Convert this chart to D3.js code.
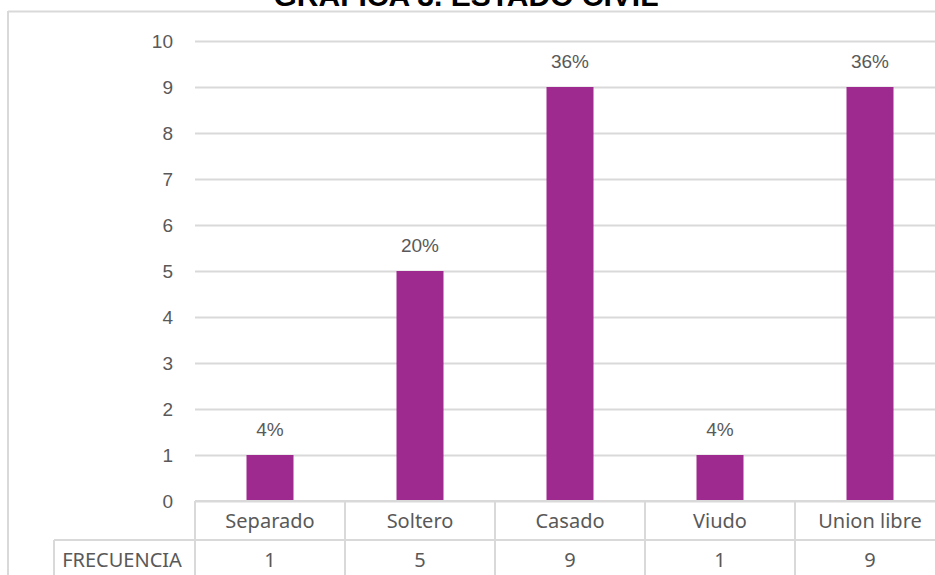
<!DOCTYPE html>
<html>
<head>
<meta charset="utf-8">
<script src="https://cdn.jsdelivr.net/npm/d3@7"></script>
<style>
  html, body { margin: 0; padding: 0; background: #ffffff; }
  svg { display: block; }
</style>
</head>
<body>
<div id="chart"></div>
<script>
// Estado civil: frequency per category with its percentage label
const categories = ["Separado", "Soltero", "Casado", "Viudo", "Union libre"];
const frecuencia = [1, 5, 9, 1, 9];
const porcentajes = ["4%", "20%", "36%", "4%", "36%"];
const yTicks = [0, 1, 2, 3, 4, 5, 6, 7, 8, 9, 10];
const tableRowLabel = "FRECUENCIA";
const title = "GRAFICA 3. ESTADO CIVIL";

const W = 935, H = 575;
const plot = { left: 195, right: 945, top: 41, bottom: 501 };
const rowH = 39;

const svg = d3.select("#chart").append("svg")
  .attr("width", W).attr("height", H);

const gridColor = "#d9d9d9";
const textColor = "#595959";
const barColor = "#9e2a8f";
const numFont = "'Liberation Sans', Arial, sans-serif";
const tableFont = "'Noto Sans', 'Open Sans', sans-serif";

// outer chart frame (left and top edges)
svg.append("line").attr("x1", 8).attr("x2", W).attr("y1", 11.5).attr("y2", 11.5)
  .attr("stroke", gridColor).attr("stroke-width", 2);
svg.append("line").attr("x1", 8).attr("x2", 8).attr("y1", 11).attr("y2", H)
  .attr("stroke", gridColor).attr("stroke-width", 2);

// title, partly above the visible area
svg.append("text")
  .attr("x", 466).attr("y", 6)
  .attr("text-anchor", "middle")
  .attr("font-family", numFont).attr("font-weight", "bold")
  .attr("font-size", 30).attr("fill", "#000")
  .text(title);

const x = d3.scaleBand().domain(categories).range([plot.left, plot.right]).paddingInner(0).paddingOuter(0);
const y = d3.scaleLinear().domain([0, 10]).range([plot.bottom, plot.top]);

// horizontal gridlines + tick labels
const yAxis = d3.axisLeft(y).tickValues(yTicks).tickSize(-(plot.right - plot.left)).tickPadding(22);
const gy = svg.append("g").attr("transform", `translate(${plot.left},0)`).call(yAxis);
gy.select(".domain").remove();
gy.selectAll(".tick line").attr("stroke", gridColor).attr("stroke-width", 2);
gy.selectAll(".tick text")
  .attr("fill", textColor).attr("font-size", 19).attr("font-family", numFont);

// bars
const barW = 47;
svg.append("g").selectAll("rect")
  .data(categories)
  .join("rect")
  .attr("x", (d) => x(d) + x.bandwidth() / 2 - barW / 2)
  .attr("width", barW)
  .attr("y", (d, i) => y(frecuencia[i]))
  .attr("height", (d, i) => y(0) - y(frecuencia[i]))
  .attr("fill", barColor);

// percentage labels above bars
svg.append("g").selectAll("text")
  .data(categories)
  .join("text")
  .attr("x", (d) => x(d) + x.bandwidth() / 2)
  .attr("y", (d, i) => y(frecuencia[i]) - 19)
  .attr("text-anchor", "middle")
  .attr("font-family", numFont).attr("font-size", 19)
  .attr("fill", textColor)
  .text((d, i) => porcentajes[i]);

// data table below the axis
const table = svg.append("g");
const tableTop = plot.bottom;
// horizontal rules
table.append("line").attr("x1", plot.left).attr("x2", W).attr("y1", tableTop).attr("y2", tableTop)
  .attr("stroke", gridColor).attr("stroke-width", 2);
table.append("line").attr("x1", 54).attr("x2", W).attr("y1", tableTop + rowH).attr("y2", tableTop + rowH)
  .attr("stroke", gridColor).attr("stroke-width", 2);
// vertical rules between categories
table.selectAll("line.v")
  .data(categories)
  .join("line")
  .attr("class", "v")
  .attr("x1", (d) => x(d)).attr("x2", (d) => x(d))
  .attr("y1", tableTop).attr("y2", H)
  .attr("stroke", gridColor).attr("stroke-width", 2);
// left edge of the row label cell
table.append("line").attr("x1", 54).attr("x2", 54).attr("y1", tableTop + rowH).attr("y2", H)
  .attr("stroke", gridColor).attr("stroke-width", 2);

// category names
table.selectAll("text.cat")
  .data(categories)
  .join("text")
  .attr("class", "cat")
  .attr("x", (d) => x(d) + x.bandwidth() / 2)
  .attr("y", tableTop + 27)
  .attr("text-anchor", "middle")
  .attr("font-family", tableFont).attr("font-size", 20)
  .attr("fill", textColor)
  .text((d) => d);

// frequency values
table.selectAll("text.val")
  .data(categories)
  .join("text")
  .attr("class", "val")
  .attr("x", (d) => x(d) + x.bandwidth() / 2)
  .attr("y", tableTop + rowH + 27)
  .attr("text-anchor", "middle")
  .attr("font-family", tableFont).attr("font-size", 20)
  .attr("fill", textColor)
  .text((d, i) => frecuencia[i]);

// row label
table.append("text")
  .attr("x", 122).attr("y", tableTop + rowH + 27)
  .attr("text-anchor", "middle")
  .attr("font-family", tableFont).attr("font-size", 20)
  .attr("fill", textColor)
  .text(tableRowLabel);
</script>
</body>
</html>
